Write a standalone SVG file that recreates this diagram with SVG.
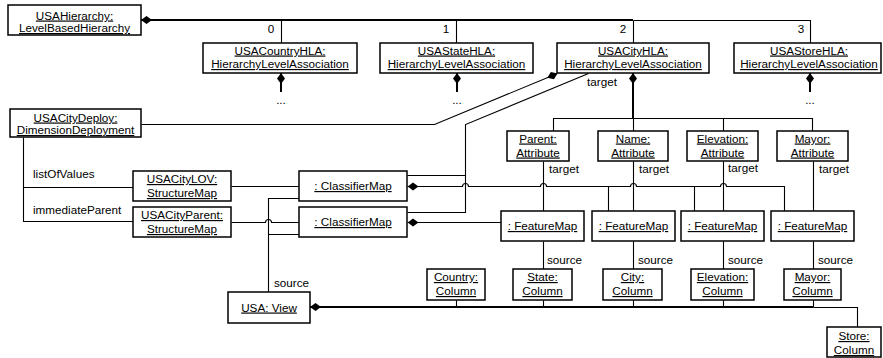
<svg xmlns="http://www.w3.org/2000/svg" width="883" height="358" viewBox="0 0 883 358">
<style>
  .box{fill:#fff;stroke:#000;stroke-width:1.5}
  .nt{font-family:"Liberation Sans",Arial,sans-serif;font-size:11.7px;text-anchor:middle;text-decoration:underline;fill:#000}
  .lbl{font-family:"Liberation Sans",Arial,sans-serif;font-size:11.7px;fill:#000}
  .num{font-family:"Liberation Sans",Arial,sans-serif;font-size:11.7px;fill:#000;text-anchor:middle}
  .c{fill:none;stroke:#000;stroke-width:1.1;transform:translate(.5px,.5px)}
  .ck{fill:none;stroke:#000;stroke-width:2}
  .own{marker-start:url(#diamond)}
</style>
<defs>
  <!-- filled composition diamond, tip placed at the path start -->
  <marker id="diamond" viewBox="0 -4.5 11 9" refX="0" refY="0" markerWidth="11" markerHeight="9" markerUnits="userSpaceOnUse" orient="auto">
    <path d="M0,0 L5.5,-4 L11,0 L5.5,4 Z" fill="#000"/>
  </marker>
</defs>
<rect width="883" height="358" fill="#fff"/>

<!-- connectors -->
<g id="connectors">
  <!-- hierarchy to level associations -->
  <path class="ck own" d="M141,20 H633"/>
  <path class="c" d="M633,20 H810 V43"/>
  <path class="c" d="M281,20 V43 M456,20 V43 M633,20 V43"/>
  <text class="num" x="271" y="33">0</text>
  <text class="num" x="446" y="33">1</text>
  <text class="num" x="623" y="33">2</text>
  <text class="num" x="801" y="33">3</text>

  <!-- level associations down to their levels -->
  <path class="ck own" d="M281,73 V92"/>
  <path class="ck own" d="M457,73 V92"/>
  <path class="ck own" d="M810,73 V92"/>
  <text class="num" x="281" y="104">...</text>
  <text class="num" x="457" y="104">...</text>
  <text class="num" x="810" y="104">...</text>

  <!-- city level to its attributes -->
  <path class="ck own" d="M633,73 V118"/>
  <path class="c" d="M553,131 V118 H812 V131 M633,118 V131 M723,118 V131"/>

  <!-- deployment to city level -->
  <path class="c own" d="M557,73 L434,124 H141"/>

  <!-- classifier maps target the city level -->
  <path class="c" d="M407,175 H465 M407,212 H465 V124 L588,73"/>
  <text class="lbl" x="587" y="86">target</text>

  <!-- classifier map 1 owns feature maps 2..4 -->
  <path class="c own" d="M407,186 H462 a3,3 0 0 1 6,0 H540 a3,3 0 0 1 6,0 H630 a3,3 0 0 1 6,0 H720 a3,3 0 0 1 6,0 H784 V211 M608,186 V211 M694,186 V211"/>
  <!-- classifier map 2 owns feature map 1 -->
  <path class="c own" d="M407,222 H501"/>

  <!-- attribute targets -->
  <path class="c" d="M543,161 V211 M633,161 V211 M723,161 V211 M813,161 V211"/>
  <text class="lbl" x="549" y="173">target</text>
  <text class="lbl" x="639" y="173">target</text>
  <text class="lbl" x="728" y="172">target</text>
  <text class="lbl" x="819" y="173">target</text>

  <!-- deployment to structure maps -->
  <path class="c" d="M23,137 V221 H133 M23,187 H133"/>
  <text class="lbl" x="33" y="178">listOfValues</text>
  <text class="lbl" x="33" y="214">immediateParent</text>

  <!-- structure maps to classifier maps -->
  <path class="c" d="M231,186 H299"/>
  <path class="c" d="M231,222 H265 a3,3 0 0 1 6,0 H299"/>

  <!-- view as source of classifier maps -->
  <path class="c" d="M268,292 V198 H299 M268,234 H299"/>
  <text class="lbl" x="274" y="287">source</text>

  <!-- feature maps to source columns -->
  <path class="c" d="M543,241 V269 M633,241 V269 M723,241 V269 M813,241 V269"/>
  <text class="lbl" x="547" y="264">source</text>
  <text class="lbl" x="638" y="264">source</text>
  <text class="lbl" x="728" y="264">source</text>
  <text class="lbl" x="818" y="264">source</text>

  <!-- view owns its columns -->
  <path class="ck own" d="M310,307 H813"/>
  <path class="c" d="M813,307 H857 V327"/>
  <path class="c" d="M456,300 V307 M543,300 V307 M633,300 V307 M723,300 V307 M813,300 V307"/>
</g>

<!-- nodes -->
<g id="usaHierarchy">
  <rect class="box" x="8" y="5" width="133" height="30"/>
  <text class="nt" x="74.5" y="19.5">USAHierarchy:</text>
  <text class="nt" x="74.5" y="32">LevelBasedHierarchy</text>
</g>
<g id="usaCountryHLA">
  <rect class="box" x="203" y="43" width="154" height="30"/>
  <text class="nt" x="280" y="54.5">USACountryHLA:</text>
  <text class="nt" x="280" y="68">HierarchyLevelAssociation</text>
</g>
<g id="usaStateHLA">
  <rect class="box" x="380" y="43" width="153" height="30"/>
  <text class="nt" x="456.5" y="54.5">USAStateHLA:</text>
  <text class="nt" x="456.5" y="68">HierarchyLevelAssociation</text>
</g>
<g id="usaCityHLA">
  <rect class="box" x="557" y="43" width="152" height="30"/>
  <text class="nt" x="633" y="54.5">USACityHLA:</text>
  <text class="nt" x="633" y="68">HierarchyLevelAssociation</text>
</g>
<g id="usaStoreHLA">
  <rect class="box" x="734" y="43" width="147" height="30"/>
  <text class="nt" x="809" y="54.5">USAStoreHLA:</text>
  <text class="nt" x="809" y="68">HierarchyLevelAssociation</text>
</g>
<g id="usaCityDeploy">
  <rect class="box" x="10" y="109" width="131" height="28"/>
  <text class="nt" x="75.5" y="121.5">USACityDeploy:</text>
  <text class="nt" x="75.5" y="134">DimensionDeployment</text>
</g>
<g id="parentAttribute">
  <rect class="box" x="507" y="131" width="62" height="30"/>
  <text class="nt" x="538" y="142.5">Parent:</text>
  <text class="nt" x="538" y="156.5">Attribute</text>
</g>
<g id="nameAttribute">
  <rect class="box" x="598" y="131" width="70" height="30"/>
  <text class="nt" x="633" y="142.5">Name:</text>
  <text class="nt" x="633" y="156.5">Attribute</text>
</g>
<g id="elevationAttribute">
  <rect class="box" x="687" y="131" width="71" height="30"/>
  <text class="nt" x="722.5" y="142.5">Elevation:</text>
  <text class="nt" x="722.5" y="156.5">Attribute</text>
</g>
<g id="mayorAttribute">
  <rect class="box" x="777" y="131" width="71" height="30"/>
  <text class="nt" x="812.5" y="142.5">Mayor:</text>
  <text class="nt" x="812.5" y="156.5">Attribute</text>
</g>
<g id="usaCityLOV">
  <rect class="box" x="133" y="171" width="98" height="30"/>
  <text class="nt" x="182" y="183">USACityLOV:</text>
  <text class="nt" x="182" y="197">StructureMap</text>
</g>
<g id="usaCityParent">
  <rect class="box" x="133" y="207" width="98" height="30"/>
  <text class="nt" x="182" y="219">USACityParent:</text>
  <text class="nt" x="182" y="233">StructureMap</text>
</g>
<g id="classifierMap1">
  <rect class="box" x="299" y="171" width="108" height="30"/>
  <text class="nt" x="353" y="190">: ClassifierMap</text>
</g>
<g id="classifierMap2">
  <rect class="box" x="299" y="207" width="108" height="30"/>
  <text class="nt" x="353" y="226">: ClassifierMap</text>
</g>
<g id="featureMap1">
  <rect class="box" x="501" y="211" width="83" height="30"/>
  <text class="nt" x="542.5" y="230">: FeatureMap</text>
</g>
<g id="featureMap2">
  <rect class="box" x="592" y="211" width="83" height="30"/>
  <text class="nt" x="633.5" y="230">: FeatureMap</text>
</g>
<g id="featureMap3">
  <rect class="box" x="681" y="211" width="83" height="30"/>
  <text class="nt" x="722.5" y="230">: FeatureMap</text>
</g>
<g id="featureMap4">
  <rect class="box" x="771" y="211" width="83" height="30"/>
  <text class="nt" x="812.5" y="230">: FeatureMap</text>
</g>
<g id="usaView">
  <rect class="box" x="228" y="292" width="82" height="31"/>
  <text class="nt" x="269" y="311.5">USA: View</text>
</g>
<g id="countryColumn">
  <rect class="box" x="427" y="269" width="58" height="31"/>
  <text class="nt" x="456" y="281">Country:</text>
  <text class="nt" x="456" y="295">Column</text>
</g>
<g id="stateColumn">
  <rect class="box" x="513" y="269" width="59" height="31"/>
  <text class="nt" x="542.5" y="281">State:</text>
  <text class="nt" x="542.5" y="295">Column</text>
</g>
<g id="cityColumn">
  <rect class="box" x="603" y="269" width="59" height="31"/>
  <text class="nt" x="632.5" y="281">City:</text>
  <text class="nt" x="632.5" y="295">Column</text>
</g>
<g id="elevationColumn">
  <rect class="box" x="691" y="269" width="63" height="31"/>
  <text class="nt" x="722.5" y="281">Elevation:</text>
  <text class="nt" x="722.5" y="295">Column</text>
</g>
<g id="mayorColumn">
  <rect class="box" x="784" y="269" width="57" height="31"/>
  <text class="nt" x="812.5" y="281">Mayor:</text>
  <text class="nt" x="812.5" y="295">Column</text>
</g>
<g id="storeColumn">
  <rect class="box" x="827" y="327" width="54" height="30"/>
  <text class="nt" x="854" y="340">Store:</text>
  <text class="nt" x="854" y="354">Column</text>
</g>
</svg>
